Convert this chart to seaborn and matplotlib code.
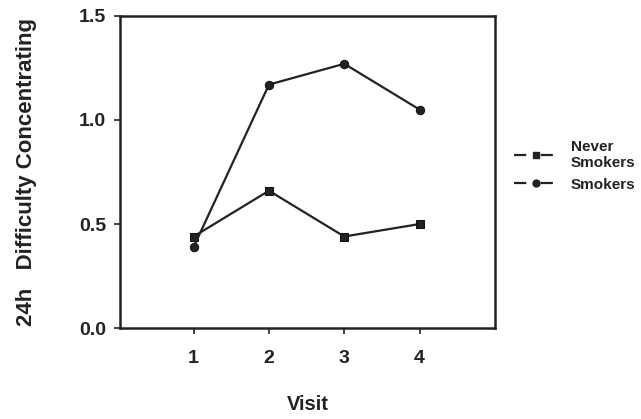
import matplotlib
matplotlib.use("Agg")
import matplotlib.pyplot as plt
import seaborn as sns
import pandas as pd
from matplotlib.lines import Line2D

# data
visits = [1, 2, 3, 4]
never_smokers = [0.44, 0.66, 0.44, 0.50]
smokers = [0.39, 1.17, 1.27, 1.05]

sns.set_style("white")
plt.rcParams['font.family'] = ['Liberation Sans', 'DejaVu Sans']
plt.rcParams['font.weight'] = 'bold'

df = pd.DataFrame({
    "Visit": visits * 2,
    "value": never_smokers + smokers,
    "group": ["Never\nSmokers"] * 4 + ["Smokers"] * 4,
})

fig = plt.figure(figsize=(6.41, 4.19), dpi=100)
ax = fig.add_axes([0.187, 0.217, 0.585, 0.745])

sns.lineplot(data=df, x="Visit", y="value", hue="group", style="group",
             markers={"Never\nSmokers": "s", "Smokers": "o"}, dashes=False,
             palette={"Never\nSmokers": "#222222", "Smokers": "#222222"},
             markersize=6, linewidth=1.6, markeredgecolor="#111111",
             legend=False, ax=ax)

ax.set_xlim(0.02, 5.0)
ax.set_ylim(0, 1.5)
ax.set_xticks(visits)
ax.set_yticks([0.0, 0.5, 1.0, 1.5])
ax.set_yticklabels(["0.0", "0.5", "1.0", "1.5"])
ax.tick_params(axis="both", direction="out", length=4, width=1.2, labelsize=14,
               colors="#222222", left=True, bottom=True)
ax.tick_params(axis="x", pad=12)
ax.tick_params(axis="y", pad=6)
for lab in ax.get_xticklabels() + ax.get_yticklabels():
    lab.set_fontweight("bold")
for sp in ax.spines.values():
    sp.set_linewidth(1.8)
    sp.set_color("#222222")

ax.set_xlabel("Visit", fontsize=14.5, fontweight="bold", labelpad=20, color="#222222")
ax.set_ylabel("24h   Difficulty Concentrating", fontsize=16, fontweight="bold",
              labelpad=30, color="#222222")

# legend handles: "- marker -" look
handles = [
    Line2D([], [], color="#222222", linestyle="--", marker="s", markersize=5,
           linewidth=1.6, dashes=(5.5, 6.5)),
    Line2D([], [], color="#222222", linestyle="--", marker="o", markersize=5,
           linewidth=1.6, dashes=(5.5, 6.5)),
]
leg = ax.legend(handles, ["Never\nSmokers", "Smokers"], loc="center left",
                bbox_to_anchor=(1.015, 0.52), frameon=False, handlelength=2.8,
                prop={"size": 11, "weight": "bold"}, labelspacing=0.5,
                handletextpad=0.9)
for t in leg.get_texts():
    t.set_color("#222222")

fig.savefig("out.png", dpi=100)
